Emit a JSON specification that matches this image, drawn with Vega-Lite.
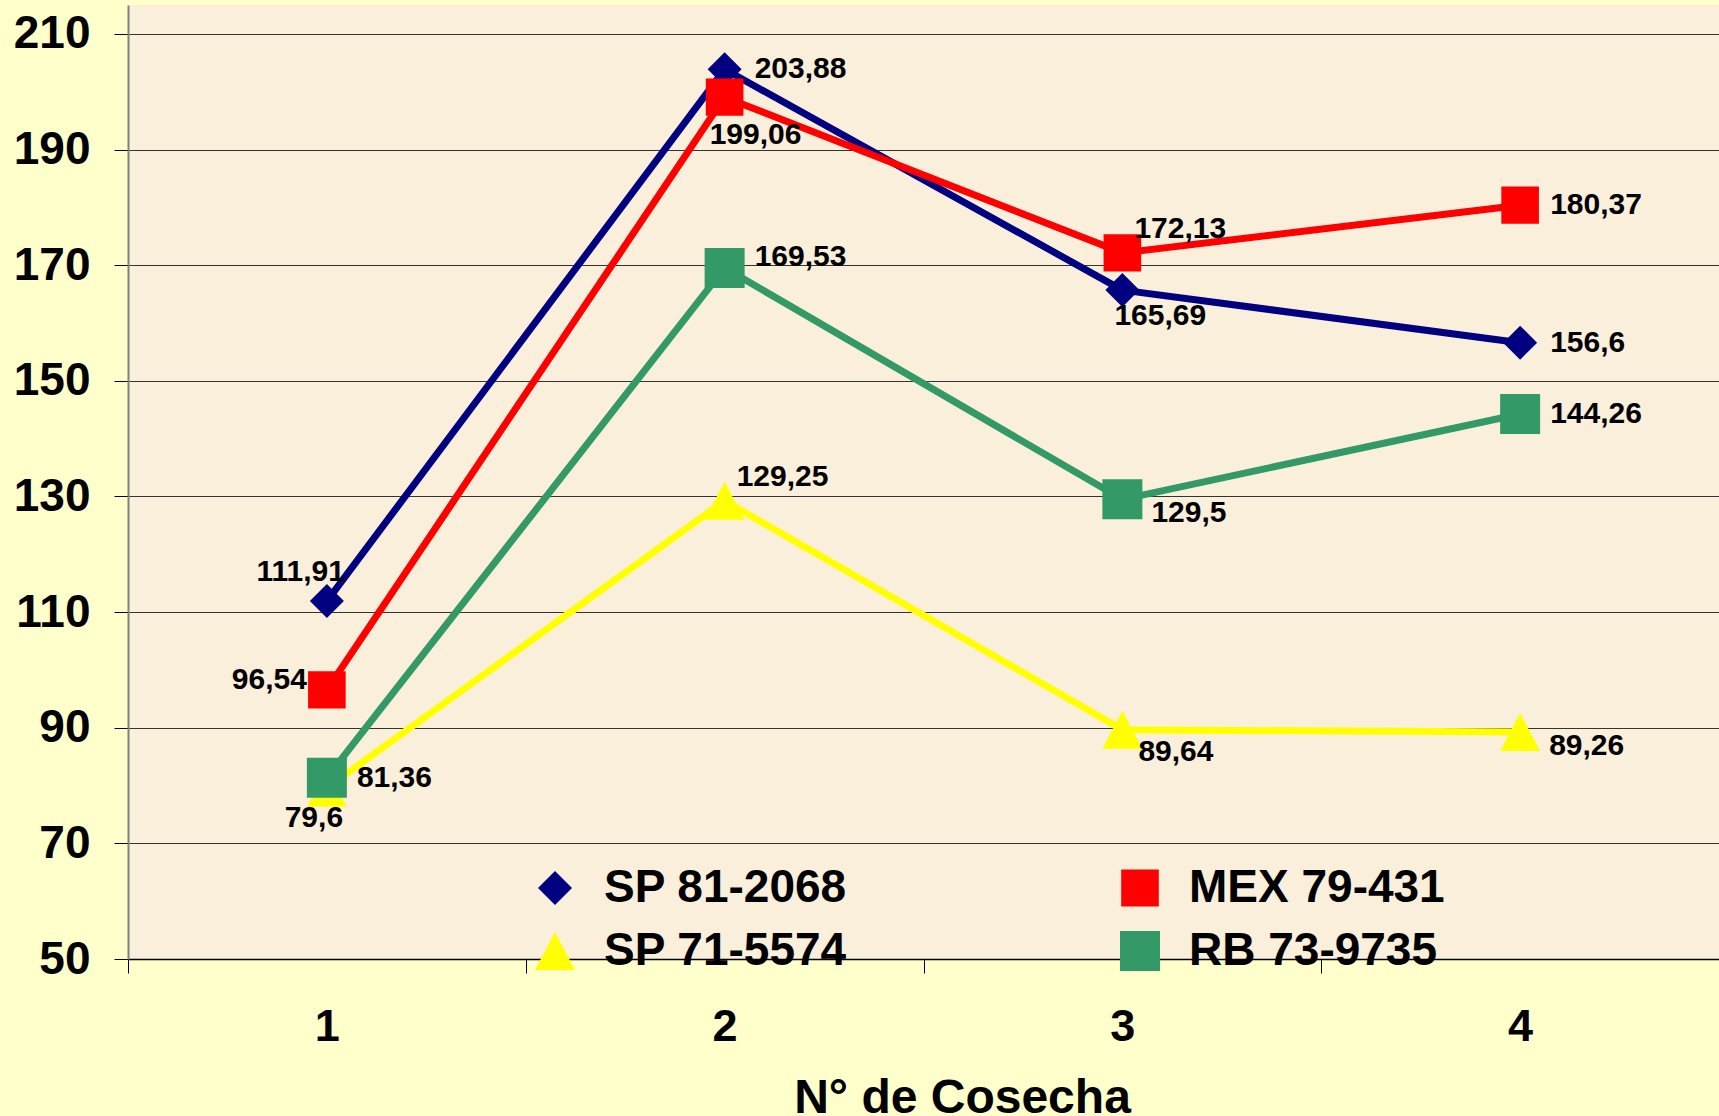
{
  "$schema": "https://vega.github.io/schema/vega-lite/v6.json",
  "width": 1591,
  "height": 954,
  "autosize": {"type": "none"},
  "padding": {"left": 128, "top": 5, "right": 0, "bottom": 157},
  "background": "#FFFFCC",
  "data": {
    "values": [
      {"serie": "SP 81-2068", "cosecha": 1, "valor": 111.91},
      {"serie": "SP 81-2068", "cosecha": 2, "valor": 203.88},
      {"serie": "SP 81-2068", "cosecha": 3, "valor": 165.69},
      {"serie": "SP 81-2068", "cosecha": 4, "valor": 156.6},
      {"serie": "MEX 79-431", "cosecha": 1, "valor": 96.54},
      {"serie": "MEX 79-431", "cosecha": 2, "valor": 199.06},
      {"serie": "MEX 79-431", "cosecha": 3, "valor": 172.13},
      {"serie": "MEX 79-431", "cosecha": 4, "valor": 180.37},
      {"serie": "SP 71-5574", "cosecha": 1, "valor": 79.6},
      {"serie": "SP 71-5574", "cosecha": 2, "valor": 129.25},
      {"serie": "SP 71-5574", "cosecha": 3, "valor": 89.64},
      {"serie": "SP 71-5574", "cosecha": 4, "valor": 89.26},
      {"serie": "RB 73-9735", "cosecha": 1, "valor": 81.36},
      {"serie": "RB 73-9735", "cosecha": 2, "valor": 169.53},
      {"serie": "RB 73-9735", "cosecha": 3, "valor": 129.5},
      {"serie": "RB 73-9735", "cosecha": 4, "valor": 144.26}
    ]
  },
  "encoding": {
    "x": {
      "field": "cosecha",
      "type": "ordinal",
      "scale": {"type": "band", "paddingInner": 0, "paddingOuter": 0},
      "axis": {
        "title": "N° de Cosecha",
        "titleFont": "Liberation Sans",
        "titleFontSize": 48,
        "titleFontWeight": "bold",
        "titleColor": "#000",
        "titleX": 834,
        "titleY": 115,
        "titleAlign": "center",
        "titleBaseline": "top",
        "labelAngle": 0,
        "labelFont": "Liberation Sans",
        "labelFontSize": 45,
        "labelFontWeight": "bold",
        "labelColor": "#000",
        "labelPadding": 31,
        "labelBaseline": "top",
        "tickBand": "extent",
        "tickSize": 14,
        "tickColor": "#000",
        "tickWidth": 1,
        "domainColor": "#000",
        "domainWidth": 1.5,
        "grid": false
      }
    },
    "y": {
      "field": "valor",
      "type": "quantitative",
      "scale": {"domain": [50, 215], "nice": false, "zero": false},
      "axis": {
        "title": null,
        "values": [50, 70, 90, 110, 130, 150, 170, 190, 210],
        "labelFont": "Liberation Sans",
        "labelFontSize": 46,
        "labelFontWeight": "bold",
        "labelColor": "#000",
        "labelPadding": 24,
        "tickSize": 14,
        "tickColor": "#000",
        "tickWidth": 1,
        "domainColor": "#808080",
        "domainWidth": 2,
        "grid": true,
        "gridColor": "#333333",
        "gridWidth": 1
      }
    }
  },
  "layer": [
    {
      "mark": {"type": "line", "strokeWidth": 7, "strokeJoin": "round"},
      "encoding": {
        "stroke": {
          "field": "serie",
          "type": "nominal",
          "scale": {
            "domain": ["SP 81-2068", "MEX 79-431", "SP 71-5574", "RB 73-9735"],
            "range": ["#000080", "#FF0000", "#FFFF00", "#339966"]
          },
          "legend": {
            "orient": "none",
            "legendX": 404,
            "legendY": 860,
            "columns": 2,
            "direction": "horizontal",
            "columnPadding": 270,
            "rowPadding": 17,
            "labelOffset": 26,
            "symbolSize": 1600,
            "symbolStrokeWidth": 0,
            "symbolOpacity": 1,
            "labelFont": "Liberation Sans",
            "labelFontSize": 46,
            "labelFontWeight": "bold",
            "labelColor": "#000",
            "labelLimit": 600,
            "title": null,
            "padding": 0,
            "encode": {
              "symbols": {
                "update": {
                  "fill": {"signal": "datum.value === 'SP 81-2068' ? '#000080' : datum.value === 'MEX 79-431' ? '#FF0000' : datum.value === 'SP 71-5574' ? '#FFFF00' : '#339966'"},
                  "stroke": {"value": "transparent"},
                  "strokeWidth": {"value": 0},
                  "opacity": {"value": 1}
                }
              }
            }
          }
        }
      }
    },
    {
      "mark": {"type": "point", "filled": true, "size": 1600, "opacity": 1, "strokeWidth": 0},
      "encoding": {
        "color": {
          "field": "serie",
          "type": "nominal",
          "scale": {
            "domain": ["SP 81-2068", "MEX 79-431", "SP 71-5574", "RB 73-9735"],
            "range": ["#000080", "#FF0000", "#FFFF00", "#339966"]
          },
          "legend": {
            "orient": "none",
            "legendX": 404,
            "legendY": 860,
            "columns": 2,
            "direction": "horizontal",
            "columnPadding": 270,
            "rowPadding": 17,
            "labelOffset": 26,
            "symbolSize": 1600,
            "symbolStrokeWidth": 0,
            "symbolOpacity": 1,
            "labelFont": "Liberation Sans",
            "labelFontSize": 46,
            "labelFontWeight": "bold",
            "labelColor": "#000",
            "labelLimit": 600,
            "title": null,
            "padding": 0,
            "encode": {
              "symbols": {
                "update": {
                  "fill": {"signal": "datum.value === 'SP 81-2068' ? '#000080' : datum.value === 'MEX 79-431' ? '#FF0000' : datum.value === 'SP 71-5574' ? '#FFFF00' : '#339966'"},
                  "stroke": {"value": "transparent"},
                  "strokeWidth": {"value": 0},
                  "opacity": {"value": 1}
                }
              }
            }
          }
        },
        "shape": {
          "field": "serie",
          "type": "nominal",
          "scale": {
            "domain": ["SP 81-2068", "MEX 79-431", "SP 71-5574", "RB 73-9735"],
            "range": [
              "M0,-0.85L0.85,0L0,0.85L-0.85,0Z",
              "M-0.94,-0.93L0.94,-0.93L0.94,0.93L-0.94,0.93Z",
              "M0,-0.95L1,0.95L-1,0.95Z",
              "M-1,-1L1,-1L1,1L-1,1Z"
            ]
          },
          "legend": {
            "orient": "none",
            "legendX": 404,
            "legendY": 860,
            "columns": 2,
            "direction": "horizontal",
            "columnPadding": 270,
            "rowPadding": 17,
            "labelOffset": 26,
            "symbolSize": 1600,
            "symbolStrokeWidth": 0,
            "symbolOpacity": 1,
            "labelFont": "Liberation Sans",
            "labelFontSize": 46,
            "labelFontWeight": "bold",
            "labelColor": "#000",
            "labelLimit": 600,
            "title": null,
            "padding": 0,
            "encode": {
              "symbols": {
                "update": {
                  "fill": {"signal": "datum.value === 'SP 81-2068' ? '#000080' : datum.value === 'MEX 79-431' ? '#FF0000' : datum.value === 'SP 71-5574' ? '#FFFF00' : '#339966'"},
                  "stroke": {"value": "transparent"},
                  "strokeWidth": {"value": 0},
                  "opacity": {"value": 1}
                }
              }
            }
          }
        }
      }
    },
    {
      "transform": [{"filter": "(datum.serie === 'SP 81-2068' && (datum.cosecha === 2 || datum.cosecha === 4)) || (datum.serie === 'MEX 79-431' && datum.cosecha === 4) || (datum.serie === 'RB 73-9735' && (datum.cosecha === 1 || datum.cosecha === 4))"}],
      "mark": {"type": "text", "align": "left", "baseline": "middle", "dx": 30, "dy": 0, "font": "Liberation Sans", "fontSize": 30, "fontWeight": "bold", "color": "#000"},
      "encoding": {"text": {"field": "valor", "type": "quantitative", "format": "~r"}}
    },
    {
      "transform": [{"filter": "datum.serie === 'RB 73-9735' && datum.cosecha === 2"}],
      "mark": {"type": "text", "align": "left", "baseline": "middle", "dx": 30, "dy": -11, "font": "Liberation Sans", "fontSize": 30, "fontWeight": "bold", "color": "#000"},
      "encoding": {"text": {"field": "valor", "type": "quantitative", "format": "~r"}}
    },
    {
      "transform": [{"filter": "(datum.serie === 'RB 73-9735' && datum.cosecha === 3) || (datum.serie === 'SP 71-5574' && datum.cosecha === 4)"}],
      "mark": {"type": "text", "align": "left", "baseline": "middle", "dx": 29, "dy": 14, "font": "Liberation Sans", "fontSize": 30, "fontWeight": "bold", "color": "#000"},
      "encoding": {"text": {"field": "valor", "type": "quantitative", "format": "~r"}}
    },
    {
      "transform": [{"filter": "datum.serie === 'SP 81-2068' && datum.cosecha === 3"}],
      "mark": {"type": "text", "align": "left", "baseline": "middle", "dx": -8, "dy": 26, "font": "Liberation Sans", "fontSize": 30, "fontWeight": "bold", "color": "#000"},
      "encoding": {"text": {"field": "valor", "type": "quantitative", "format": "~r"}}
    },
    {
      "transform": [{"filter": "datum.serie === 'MEX 79-431' && datum.cosecha === 2"}],
      "mark": {"type": "text", "align": "left", "baseline": "middle", "dx": -15, "dy": 38, "font": "Liberation Sans", "fontSize": 30, "fontWeight": "bold", "color": "#000"},
      "encoding": {"text": {"field": "valor", "type": "quantitative", "format": "~r"}}
    },
    {
      "transform": [{"filter": "(datum.serie === 'MEX 79-431' && datum.cosecha === 3) || (datum.serie === 'SP 71-5574' && datum.cosecha === 2)"}],
      "mark": {"type": "text", "align": "left", "baseline": "middle", "dx": 12, "dy": -24, "font": "Liberation Sans", "fontSize": 30, "fontWeight": "bold", "color": "#000"},
      "encoding": {"text": {"field": "valor", "type": "quantitative", "format": "~r"}}
    },
    {
      "transform": [{"filter": "datum.serie === 'SP 71-5574' && datum.cosecha === 3"}],
      "mark": {"type": "text", "align": "left", "baseline": "middle", "dx": 16, "dy": 22, "font": "Liberation Sans", "fontSize": 30, "fontWeight": "bold", "color": "#000"},
      "encoding": {"text": {"field": "valor", "type": "quantitative", "format": "~r"}}
    },
    {
      "transform": [{"filter": "datum.serie === 'SP 81-2068' && datum.cosecha === 1"}],
      "mark": {"type": "text", "align": "right", "baseline": "middle", "dx": 18, "dy": -29, "font": "Liberation Sans", "fontSize": 30, "fontWeight": "bold", "color": "#000"},
      "encoding": {"text": {"field": "valor", "type": "quantitative", "format": "~r"}}
    },
    {
      "transform": [{"filter": "datum.serie === 'MEX 79-431' && datum.cosecha === 1"}],
      "mark": {"type": "text", "align": "right", "baseline": "middle", "dx": -20, "dy": -10, "font": "Liberation Sans", "fontSize": 30, "fontWeight": "bold", "color": "#000"},
      "encoding": {"text": {"field": "valor", "type": "quantitative", "format": "~r"}}
    },
    {
      "transform": [{"filter": "datum.serie === 'SP 71-5574' && datum.cosecha === 1"}],
      "mark": {"type": "text", "align": "center", "baseline": "middle", "dx": -13, "dy": 30, "font": "Liberation Sans", "fontSize": 30, "fontWeight": "bold", "color": "#000"},
      "encoding": {"text": {"field": "valor", "type": "quantitative", "format": "~r"}}
    }
  ],
  "config": {
    "locale": {
      "number": {"decimal": ",", "thousands": ".", "grouping": [3], "currency": ["", " €"]}
    },
    "view": {"stroke": null, "fill": "#F9EFDB"},
    "font": "Liberation Sans"
  }
}
